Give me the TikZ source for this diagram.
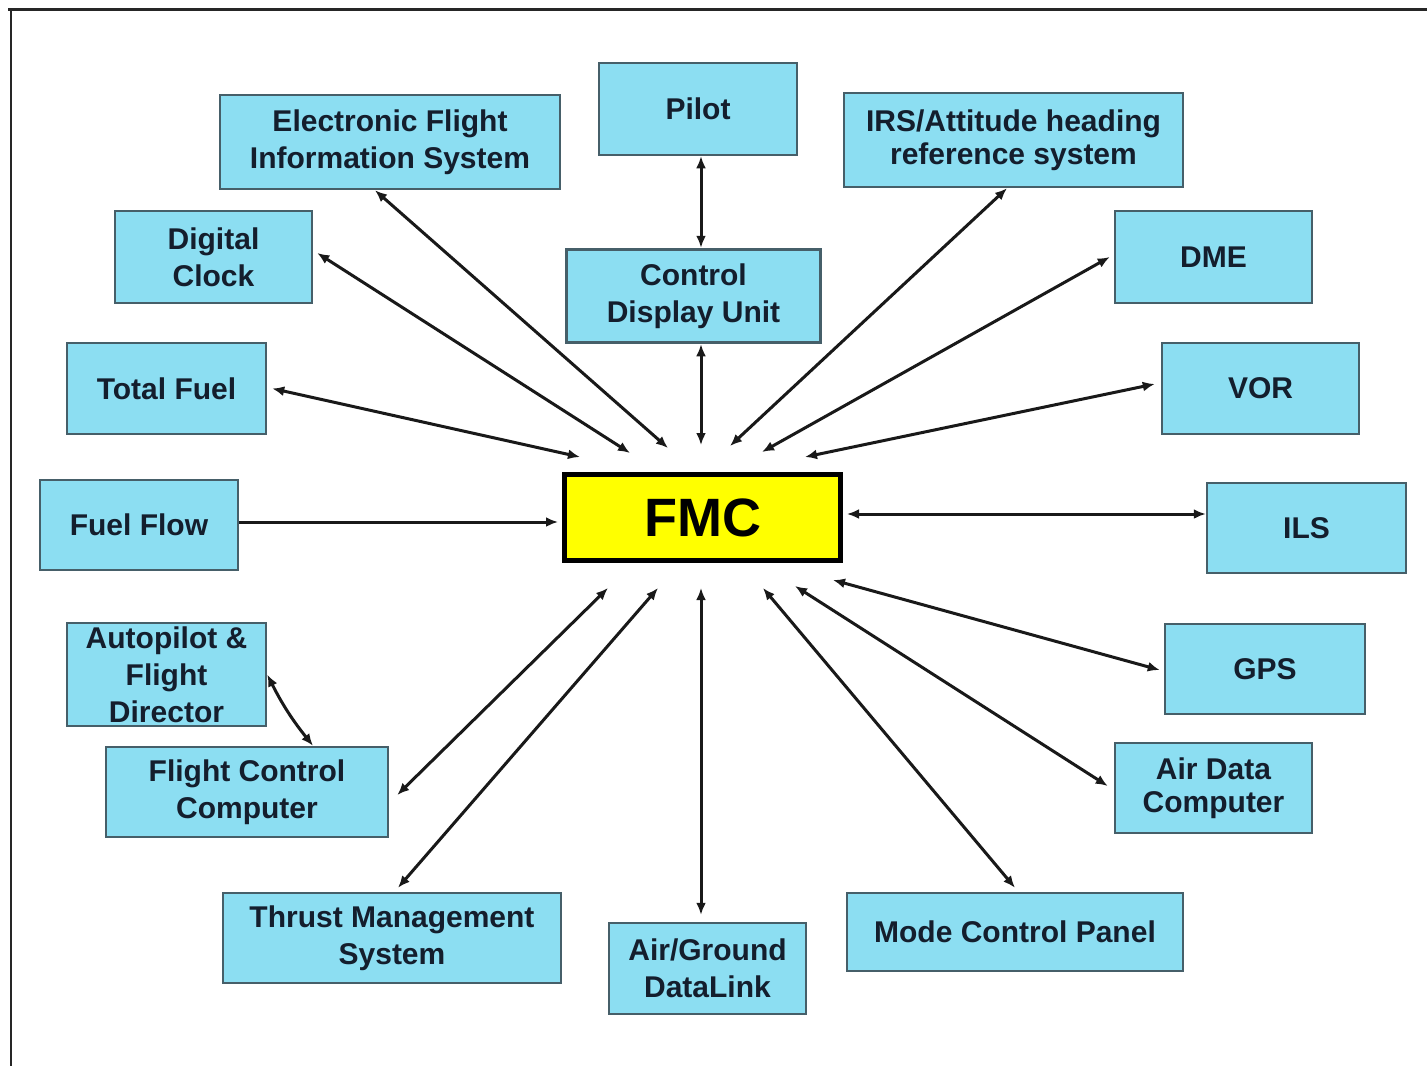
\documentclass[tikz,border=0pt]{standalone}
\usepackage{fontspec}
\setmainfont{Liberation Sans}
\usetikzlibrary{arrows.meta}
\definecolor{boxfill}{RGB}{140,222,242}
\definecolor{boxline}{RGB}{70,95,105}
\definecolor{txtcol}{RGB}{20,30,45}
\definecolor{fmcfill}{RGB}{255,255,0}
\begin{document}
\begin{tikzpicture}[x=1pt,y=-1pt,
  box/.style={draw=boxline, line width=2.5pt, fill=boxfill, inner sep=0pt, align=center,
    text=txtcol, font=\fontsize{30}{37}\selectfont\bfseries},
  fmcbox/.style={draw=black, line width=5pt, fill=fmcfill, inner sep=0pt,
    text=black, font=\fontsize{54}{60}\selectfont\bfseries},
  link/.style={line width=3pt, draw=black!90,
    {Latex[length=12pt,width=10pt]}-{Latex[length=12pt,width=10pt]}},
  onelink/.style={line width=3pt, draw=black!90, -{Latex[length=12pt,width=10pt]}}]
\useasboundingbox (0,0) rectangle (1427,1066);
\fill[white] (0,0) rectangle (1427,1066);
% frame
\draw[line width=3pt, black!85] (8,9.5) -- (1427,9.5);
\draw[line width=2.5pt, black!85] (11,9) -- (11,1066);

% nodes
\node[box, minimum width=340pt, minimum height=94pt] (efis) at (390,142) {Electronic Flight\\Information System};
\node[box, minimum width=198pt, minimum height=92pt] (pilot) at (698,109) {Pilot};
\node[box, minimum width=339pt, minimum height=94pt, font=\fontsize{30}{33}\selectfont\bfseries] (irs) at (1013.5,140) {IRS/Attitude heading\\reference system};
\node[box, minimum width=197pt, minimum height=92pt] (clock) at (213.5,257) {Digital\\Clock};
\node[box, line width=3.5pt, minimum width=254pt, minimum height=93pt] (cdu) at (693.5,296) {Control\\Display Unit};
\node[box, minimum width=197pt, minimum height=92pt] (dme) at (1213.5,257) {DME};
\node[box, minimum width=199pt, minimum height=91pt] (tfuel) at (166.5,388.5) {Total Fuel};
\node[box, minimum width=197pt, minimum height=91pt] (vor) at (1260.5,388.5) {VOR};
\node[fmcbox, minimum width=276pt, minimum height=86pt] (fmc) at (702.5,517.5) {FMC};
\node[box, minimum width=198pt, minimum height=90pt] (fflow) at (139,525) {Fuel Flow};
\node[box, minimum width=199pt, minimum height=90pt] (ils) at (1306.5,528) {ILS};
\node[box, minimum width=199pt, minimum height=103pt] (ap) at (166.5,674.5) {Autopilot \&\\Flight\\Director};
\node[box, minimum width=200pt, minimum height=90pt] (gps) at (1265,669) {GPS};
\node[box, minimum width=282pt, minimum height=90pt] (fcc) at (247,792) {Flight Control\\Computer};
\node[box, minimum width=197pt, minimum height=90pt, font=\fontsize{30}{33}\selectfont\bfseries] (adc) at (1213.5,788) {Air Data\\Computer};
\node[box, minimum width=338pt, minimum height=90pt] (tms) at (392,938) {Thrust Management\\System};
\node[box, minimum width=197pt, minimum height=91pt] (adl) at (707.5,968.5) {Air/Ground\\DataLink};
\node[box, minimum width=336pt, minimum height=78pt] (mcp) at (1015,932) {Mode Control Panel};

% arrow tips around the FMC
\coordinate (t-tf) at (580,457);
\coordinate (t-dc) at (630,453);
\coordinate (t-efis) at (668,448);
\coordinate (t-cdu) at (701,445);
\coordinate (t-irs) at (730,446);
\coordinate (t-dme) at (762,452);
\coordinate (t-vor) at (805,457);
\coordinate (t-ff) at (558,522);
\coordinate (t-ils) at (847,514);
\coordinate (t-fcc) at (608,588);
\coordinate (t-tms) at (658,588);
\coordinate (t-adl) at (701,588);
\coordinate (t-mcp) at (763,588);
\coordinate (t-adc) at (795,586);
\coordinate (t-gps) at (833,580);

% connectors
\draw[link] ([xshift=3pt]pilot.south) -- ([xshift=7.5pt]cdu.north);
\draw[link] ([xshift=7.5pt]cdu.south) -- (t-cdu);
\draw[link] ([xshift=-15pt]efis.south) -- (t-efis);
\draw[link] ([xshift=4pt,yshift=4pt]clock.east) -- (t-dc);
\draw[link] ([xshift=5pt]tfuel.east) -- (t-tf);
\draw[onelink] ([yshift=3pt]fflow.east) -- (t-ff);
\draw[link] ([xshift=-6.5pt]irs.south) -- (t-irs);
\draw[link] ([xshift=-4pt]dme.west) -- (t-dme);
\draw[link] ([xshift=-6pt,yshift=4.5pt]vor.west) -- (t-vor);
\draw[link] (t-ils) -- (t-ils -| ils.west);
\draw[link] (t-gps) -- ([xshift=-4pt,yshift=-1pt]gps.west);
\draw[link] (t-adc) -- ([xshift=-6pt,yshift=2pt]adc.west);
\draw[link] (t-mcp) -- ([yshift=4pt]mcp.north);
\draw[link] (t-adl) -- ([yshift=7pt]t-adl |- adl.north);
\draw[link] (t-tms) -- ([xshift=6pt,yshift=4pt]tms.north);
\draw[link] (t-fcc) -- ([xshift=8pt,yshift=-3pt]fcc.east);
\draw[link] (ap.east) to[bend right=6] ([xshift=66pt]fcc.north);
\end{tikzpicture}
\end{document}
